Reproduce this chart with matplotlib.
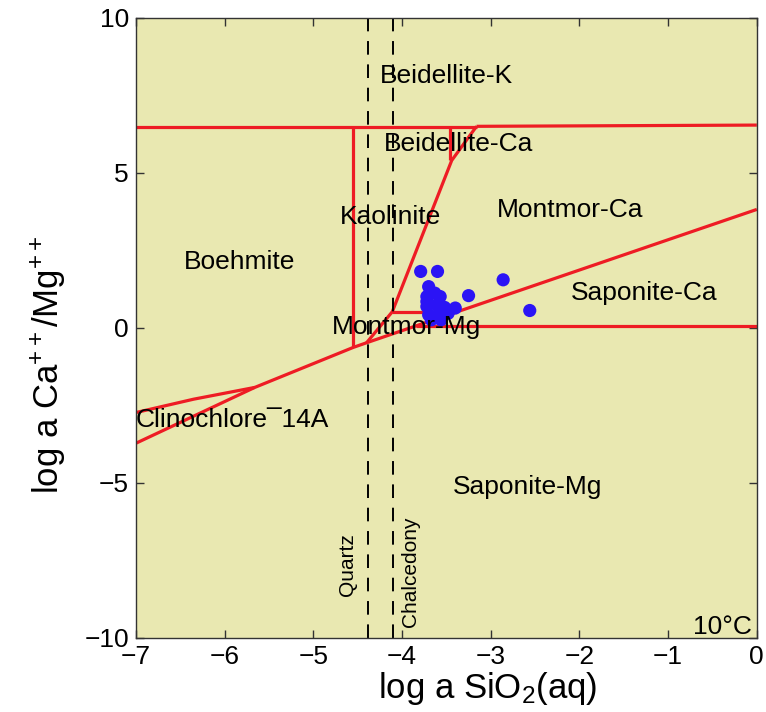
import matplotlib
matplotlib.use("Agg")
import matplotlib.pyplot as plt

plt.rcParams['font.family'] = ['Liberation Sans', 'DejaVu Sans']
plt.rcParams['mathtext.fontset'] = 'custom'
plt.rcParams['mathtext.rm'] = 'Liberation Sans'
plt.rcParams['mathtext.it'] = 'Liberation Sans:italic'

# phase boundaries (log a SiO2, log a Ca++/Mg++)
top_left_x = [-7.0, -3.16]
top_left_y = [6.47, 6.47]
top_right_x = [-3.16, 0.0]
top_right_y = [6.50, 6.54]
kaol_x = [-4.55, -4.55]
kaol_y = [6.47, -0.63]
beid_x = [-3.46, -3.46]
beid_y = [6.47, 5.40]
steep_x = [-3.16, -3.44, -4.11, -4.40]
steep_y = [6.50, 5.40, 0.52, -0.48]
mgshort_x = [-4.11, -3.376]
mgshort_y = [0.52, 0.52]
diag_x = [-7.0, -5.66, -4.55, -4.40, 0.0]
diag_y = [-3.72, -1.92, -0.63, -0.48, 3.82]
sap_x = [-3.837, 0.0]
sap_y = [0.07, 0.07]
clino_x = [-7.0, -6.35, -5.66]
clino_y = [-2.73, -2.30, -1.92]

quartz_x = -4.38
chalcedony_x = -4.10

# water samples
samples_x = [-3.79, -3.60, -3.70, -3.63, -3.57, -3.72, -3.25, -3.72, -3.61, -3.52,
             -3.40, -3.70, -3.59, -3.48, -3.67, -3.56, -3.72, -2.86, -2.56]
samples_y = [1.82, 1.82, 1.33, 1.12, 1.01, 1.01, 1.04, 0.69, 0.74, 0.66,
             0.64, 0.42, 0.44, 0.47, 0.26, 0.26, 0.85, 1.55, 0.56]

fields = ["Beidellite-K", "Beidellite-Ca", "Kaolinite", "Montmor-Ca", "Boehmite",
          "Saponite-Ca", "Montmor-Mg", "Clinochlore\u00af14A", "Saponite-Mg"]
fields_x = [-3.505, -3.36, -4.125, -2.10, -5.83, -1.27, -3.945, -5.91, -2.58]
fields_y = [8.13, 5.94, 3.58, 3.81, 2.13, 1.13, 0.03, -2.97, -5.13]

red = '#ee1c24'

fig = plt.figure(figsize=(7.66, 7.12), dpi=100)
ax = fig.add_axes([0.1775, 0.104, 0.8105, 0.871])
ax.set_facecolor('#e9e8b1')

for xs, ys in [(top_left_x, top_left_y), (top_right_x, top_right_y), (kaol_x, kaol_y),
               (beid_x, beid_y), (steep_x, steep_y), (mgshort_x, mgshort_y),
               (diag_x, diag_y), (sap_x, sap_y), (clino_x, clino_y)]:
    ax.plot(xs, ys, color=red, lw=2.3, solid_capstyle='butt', zorder=2)

ax.axvline(quartz_x, color='black', lw=1.4, ls=(0, (7, 5)), zorder=2)
ax.axvline(chalcedony_x, color='black', lw=1.4, ls=(0, (7, 5)), zorder=2)

ax.scatter(samples_x, samples_y, s=90, color='#2b14f5', edgecolors='none', zorder=3)

for name, fx, fy in zip(fields, fields_x, fields_y):
    ax.text(fx, fy, name, fontsize=19, ha='center', va='center', zorder=4)

ax.text(-4.61, -7.65, "Quartz", fontsize=15, rotation=90, ha='center', va='center')
ax.text(-3.90, -7.87, "Chalcedony", fontsize=15, rotation=90, ha='center', va='center')
ax.text(-0.05, -9.65, "10\u00b0C", fontsize=19, ha='right', va='center')

ax.set_xlim(-7, 0)
ax.set_ylim(-10, 10)
ax.set_xticks(range(-7, 1))
ax.set_yticks([-10, -5, 0, 5, 10])
ax.set_xticklabels(['\u22127', '\u22126', '\u22125', '\u22124', '\u22123', '\u22122', '\u22121', '0'])
ax.set_yticklabels(['\u221210', '\u22125', '0', '5', '10'])
ax.tick_params(direction='in', length=6, width=1, top=True, right=True,
               labelsize=19, pad=5, color='#333333')
for sp in ax.spines.values():
    sp.set_color('#333333')
    sp.set_linewidth(1)

ax.set_xlabel(r'log a SiO$_2$(aq)', fontsize=25)
ax.set_ylabel(r'log a Ca$^{++}$/Mg$^{++}$', fontsize=25)
ax.xaxis.set_label_coords(0.567, -0.052)
ax.yaxis.set_label_coords(-0.11, 0.44)

fig.savefig("out.png", dpi=100)
